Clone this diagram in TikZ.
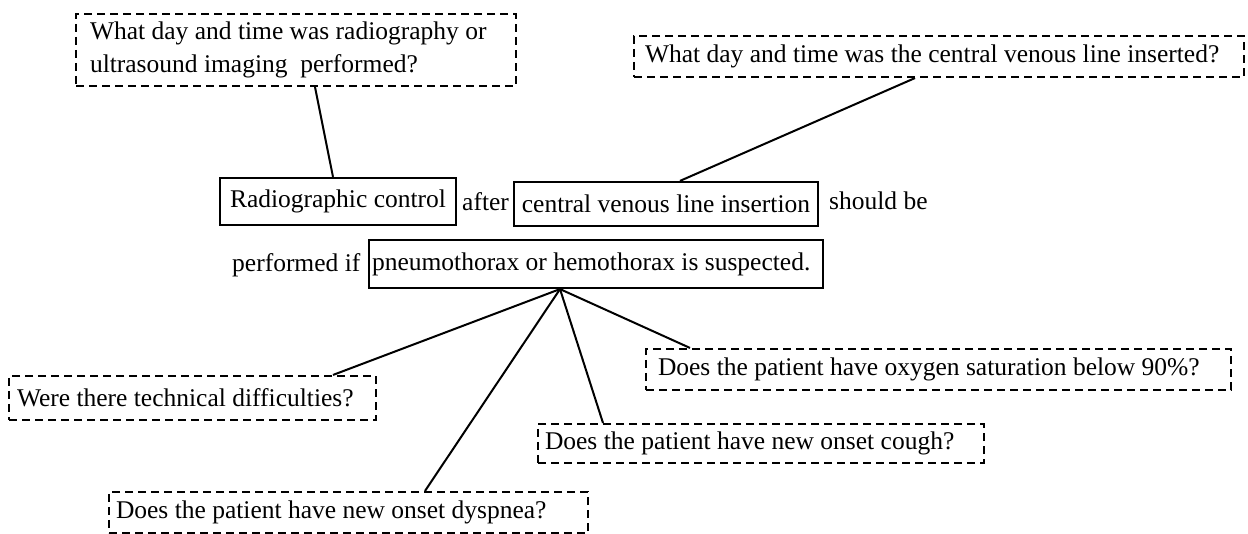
\documentclass[tikz,border=0pt]{standalone}
\usepackage{fontspec}
\setmainfont{Liberation Serif}
\newcommand{\lbox}[2]{\makebox[#1][l]{#2}}
\begin{document}
\begin{tikzpicture}[x=1pt,y=-1pt,
  every node/.style={font=\fontsize{25.5}{33}\selectfont, inner sep=0pt},
  dbox/.style={draw, dash pattern=on 8pt off 5pt, line width=2.1pt, align=left},
  sbox/.style={draw, line width=2.2pt},
  link/.style={line width=2pt}]
\useasboundingbox (0,0) rectangle (1248,534);

% question boxes (dashed)
\node[dbox, inner xsep=14pt, minimum height=72pt] (tl) at (296,50)
  {\lbox{412pt}{What day and time was radiography or}\\\lbox{412pt}{ultrasound imaging~~performed?}};
\node[dbox, inner xsep=11pt, minimum height=41pt] (tr) at (939,56.5)
  {\lbox{588pt}{What day and time was the central venous line inserted?}};
\node[dbox, inner xsep=8pt, minimum height=44pt] (wt) at (192.5,398)
  {\lbox{351pt}{Were there technical difficulties?}};
\node[dbox, inner xsep=7pt, minimum height=41pt] (dy) at (348.5,512.5)
  {\lbox{465pt}{Does the patient have new onset dyspnea?}};
\node[dbox, inner xsep=7pt, minimum height=39pt] (co) at (761,443.5)
  {\lbox{432pt}{Does the patient have new onset cough?}};
\node[dbox, inner xsep=12pt, minimum height=41pt] (ox) at (938.5,369.5)
  {\lbox{561pt}{Does the patient have oxygen saturation below 90\%?}};

% sentence with solid boxes
\node[sbox, minimum width=236pt, minimum height=47pt] (rc) at (338,201.5) {Radiographic control};
\node[anchor=base west] (after) at (462,210.7) {after};
\node[sbox, minimum width=304pt, minimum height=44pt] (cvl) at (666,204) {central venous line insertion};
\node[anchor=base west] (should) at (829,210) {should be};
\node[anchor=base west] (perf) at (232,271.7) {performed if};
\node[sbox, inner xsep=3pt, minimum height=48pt] (pn) at (596,264)
  {\lbox{448pt}{pneumothorax or hemothorax is suspected.}};

% connectors
\draw[link] ([xshift=19pt]tl.south) -- ([xshift=-5pt]rc.north);
\draw[link] ([xshift=-24pt]tr.south) -- ([xshift=14pt]cvl.north);
\coordinate (hub) at ([xshift=-36pt]pn.south);
\draw[link] (hub) -- ([xshift=140.5pt]wt.north);
\draw[link] (hub) -- ([xshift=76.5pt]dy.north);
\draw[link] (hub) -- ([xshift=-158pt]co.north);
\draw[link] (hub) -- ([xshift=-248.5pt]ox.north);
\end{tikzpicture}
\end{document}
